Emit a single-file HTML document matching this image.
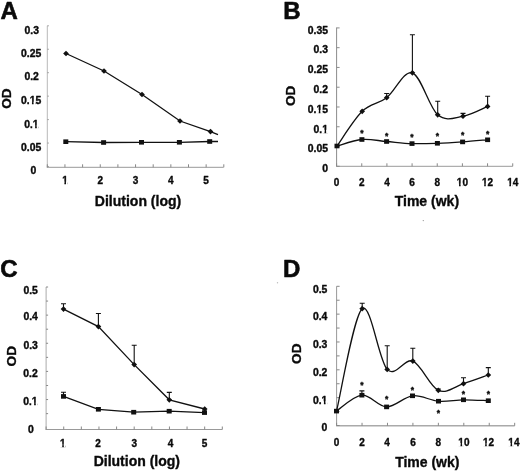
<!DOCTYPE html>
<html><head><meta charset="utf-8"><title>Figure</title>
<style>
html,body{margin:0;padding:0;background:#fff;}
body{width:520px;height:471px;overflow:hidden;}
svg{display:block;filter:grayscale(1);font-family:"Liberation Sans",sans-serif;font-weight:bold;fill:#0a0a0a;}
text{stroke:#0a0a0a;stroke-width:0.35px;stroke-linejoin:round;}
text.big{stroke-width:0.6px;}
</style></head>
<body>
<svg width="520" height="471" viewBox="0 0 520 471">
<rect width="520" height="471" fill="#fff"/>
<path d="M47.3,25.8 V167.3" stroke="#b8b8b8" stroke-width="1" fill="none"/>
<path d="M46.8,167.3 H223.6" stroke="#999" stroke-width="1" fill="none"/>
<path d=" M47.3,166.5 h1.5 M47.3,143.05 h1.5 M47.3,119.6 h1.5 M47.3,96.15 h1.5 M47.3,72.7 h1.5 M47.3,49.25 h1.5 M47.3,25.8 h1.5" stroke="#999" stroke-width="1" fill="none"/>
<path d=" M47.3,167.3 v-3 M64.95,167.3 v-3 M82.6,167.3 v-3 M100.25,167.3 v-3 M117.9,167.3 v-3 M135.55,167.3 v-3 M153.2,167.3 v-3 M170.85,167.3 v-3 M188.5,167.3 v-3 M206.15,167.3 v-3 M223.8,167.3 v-3" stroke="#888" stroke-width="1" fill="none"/>
<text transform="translate(33.3,174.3) scale(1.04,1)" x="0" y="0" font-size="10" text-anchor="middle">0</text>
<text transform="translate(31.1,151.2) scale(1.04,1)" x="0" y="0" font-size="10" text-anchor="middle">0.05</text>
<text transform="translate(31.4,127.9) scale(1.04,1)" x="0" y="0" font-size="10" text-anchor="middle">0.1</text>
<text transform="translate(31.1,104.45) scale(1.04,1)" x="0" y="0" font-size="10" text-anchor="middle">0.15</text>
<text transform="translate(31.6,80.3) scale(1.04,1)" x="0" y="0" font-size="10" text-anchor="middle">0.2</text>
<text transform="translate(31.1,57.15) scale(1.04,1)" x="0" y="0" font-size="10" text-anchor="middle">0.25</text>
<text transform="translate(31.7,33.9) scale(1.04,1)" x="0" y="0" font-size="10" text-anchor="middle">0.3</text>
<text x="64.95" y="184.3" font-size="10" text-anchor="middle">1</text>
<text x="100.25" y="184.3" font-size="10" text-anchor="middle">2</text>
<text x="135.55" y="184.3" font-size="10" text-anchor="middle">3</text>
<text x="170.85" y="184.3" font-size="10" text-anchor="middle">4</text>
<text x="206.15" y="184.3" font-size="10" text-anchor="middle">5</text>
<text x="138" y="206.2" font-size="14" text-anchor="middle">Dilution (log)</text>
<text transform="translate(11.2,98.6) rotate(-90)" font-size="13.6" text-anchor="middle">OD</text>
<text x="0.4" y="18.7" font-size="24" text-anchor="start" class="big">A</text>
<path d="M66,53.5 L104,71 L142,94.5 L180,121 L210.5,131.6 L218,134.6" stroke="#111" stroke-width="1.3" fill="none"/>
<path d="M65.8,141.7 L103.6,142.5 L141.5,142.3 L179.4,142.3 L209.7,141.5 L218,141.5" stroke="#111" stroke-width="1.3" fill="none"/>
<path d="M66,50.65 L68.85,53.5 L66,56.35 L63.15,53.5 Z" fill="#111"/>
<path d="M104,68.15 L106.85,71 L104,73.85 L101.15,71 Z" fill="#111"/>
<path d="M142,91.65 L144.85,94.5 L142,97.35 L139.15,94.5 Z" fill="#111"/>
<path d="M180,118.15 L182.85,121 L180,123.85 L177.15,121 Z" fill="#111"/>
<path d="M210.5,128.75 L213.35,131.6 L210.5,134.45 L207.65,131.6 Z" fill="#111"/>
<rect x="63.3" y="139.4" width="5" height="4.6" fill="#111"/>
<rect x="101.1" y="140.2" width="5" height="4.6" fill="#111"/>
<rect x="139" y="140" width="5" height="4.6" fill="#111"/>
<rect x="176.9" y="140" width="5" height="4.6" fill="#111"/>
<rect x="207.2" y="139.2" width="5" height="4.6" fill="#111"/>
<path d="M336.6,27.5 V166.3" stroke="#8c8c8c" stroke-width="1" fill="none"/>
<path d="M336.1,166.3 H512.72" stroke="#9a9a9a" stroke-width="1" fill="none"/>
<path d=" M336.6,166.3 h3 M336.6,146.53 h3 M336.6,126.76 h3 M336.6,106.99 h3 M336.6,87.22 h3 M336.6,67.45 h3 M336.6,47.68 h3 M336.6,27.91 h3" stroke="#8c8c8c" stroke-width="1" fill="none"/>
<path d=" M336.6,166.3 v-3 M361.76,166.3 v-3 M386.92,166.3 v-3 M412.08,166.3 v-3 M437.24,166.3 v-3 M462.4,166.3 v-3 M487.56,166.3 v-3 M512.72,166.3 v-3" stroke="#888" stroke-width="1" fill="none"/>
<text transform="translate(328,172.1) scale(1.04,1)" x="0" y="0" font-size="10" text-anchor="end">0</text>
<text transform="translate(328,152.33) scale(1.04,1)" x="0" y="0" font-size="10" text-anchor="end">0.05</text>
<text transform="translate(328,132.56) scale(1.04,1)" x="0" y="0" font-size="10" text-anchor="end">0.1</text>
<text transform="translate(328,112.79) scale(1.04,1)" x="0" y="0" font-size="10" text-anchor="end">0.15</text>
<text transform="translate(328,93.02) scale(1.04,1)" x="0" y="0" font-size="10" text-anchor="end">0.2</text>
<text transform="translate(328,73.25) scale(1.04,1)" x="0" y="0" font-size="10" text-anchor="end">0.25</text>
<text transform="translate(328,53.48) scale(1.04,1)" x="0" y="0" font-size="10" text-anchor="end">0.3</text>
<text transform="translate(328,33.71) scale(1.04,1)" x="0" y="0" font-size="10" text-anchor="end">0.35</text>
<text x="336.6" y="186.3" font-size="10" text-anchor="middle">0</text>
<text x="361.76" y="186.3" font-size="10" text-anchor="middle">2</text>
<text x="386.92" y="186.3" font-size="10" text-anchor="middle">4</text>
<text x="412.08" y="186.3" font-size="10" text-anchor="middle">6</text>
<text x="437.24" y="186.3" font-size="10" text-anchor="middle">8</text>
<text x="462.4" y="186.3" font-size="10" text-anchor="middle">10</text>
<text x="487.56" y="186.3" font-size="10" text-anchor="middle">12</text>
<text x="512.72" y="186.3" font-size="10" text-anchor="middle">14</text>
<text x="426.9" y="205.8" font-size="14" text-anchor="middle">Time (wk)</text>
<text transform="translate(295.1,95.8) rotate(-90)" font-size="13.6" text-anchor="middle">OD</text>
<text x="283.3" y="18.7" font-size="24" text-anchor="start" class="big">B</text>
<path d="M386.7,97.7 V93.5 M384.2,93.5 H389.2" stroke="#111" stroke-width="1.1" fill="none"/>
<path d="M412.4,72.8 V34.7 M409.9,34.7 H414.9" stroke="#111" stroke-width="1.1" fill="none"/>
<path d="M437.7,114.8 V101.2 M435.2,101.2 H440.2" stroke="#111" stroke-width="1.1" fill="none"/>
<path d="M463,116.2 V113.4 M460.5,113.4 H465.5" stroke="#111" stroke-width="1.1" fill="none"/>
<path d="M487.6,106.4 V96.3 M485.1,96.3 H490.1" stroke="#111" stroke-width="1.1" fill="none"/>
<path d="M337,146 C341.2,140.22 353.92,119.35 362.2,111.3 C370.48,103.25 378.33,104.12 386.7,97.7 C395.07,91.28 403.9,69.95 412.4,72.8 C420.9,75.65 429.27,107.57 437.7,114.8 C446.13,122.03 454.68,117.6 463,116.2 C471.32,114.8 483.5,108.03 487.6,106.4" stroke="#111" stroke-width="1.3" fill="none"/>
<path d="M337,146 C341.15,144.92 353.63,140.25 361.9,139.5 C370.17,138.75 378.25,140.82 386.6,141.5 C394.95,142.18 403.53,143.3 412,143.6 C420.47,143.9 428.97,143.58 437.4,143.3 C445.83,143.02 454.23,142.48 462.6,141.9 C470.97,141.32 483.43,140.15 487.6,139.8" stroke="#111" stroke-width="1.3" fill="none"/>
<path d="M362.2,108.45 L365.05,111.3 L362.2,114.15 L359.35,111.3 Z" fill="#111"/>
<path d="M386.7,94.85 L389.55,97.7 L386.7,100.55 L383.85,97.7 Z" fill="#111"/>
<path d="M412.4,69.95 L415.25,72.8 L412.4,75.65 L409.55,72.8 Z" fill="#111"/>
<path d="M437.7,111.95 L440.55,114.8 L437.7,117.65 L434.85,114.8 Z" fill="#111"/>
<path d="M463,113.35 L465.85,116.2 L463,119.05 L460.15,116.2 Z" fill="#111"/>
<path d="M487.6,103.55 L490.45,106.4 L487.6,109.25 L484.75,106.4 Z" fill="#111"/>
<rect x="334.5" y="143.7" width="5" height="4.6" fill="#111"/>
<rect x="359.4" y="137.2" width="5" height="4.6" fill="#111"/>
<rect x="384.1" y="139.2" width="5" height="4.6" fill="#111"/>
<rect x="409.5" y="141.3" width="5" height="4.6" fill="#111"/>
<rect x="434.9" y="141" width="5" height="4.6" fill="#111"/>
<rect x="460.1" y="139.6" width="5" height="4.6" fill="#111"/>
<rect x="485.1" y="137.5" width="5" height="4.6" fill="#111"/>
<text x="361.9" y="136.4" font-size="8.5" text-anchor="middle">*</text>
<text x="386.6" y="138.5" font-size="8.5" text-anchor="middle">*</text>
<text x="412" y="140.19" font-size="8.5" text-anchor="middle">*</text>
<text x="437.4" y="139.3" font-size="8.5" text-anchor="middle">*</text>
<text x="462.6" y="138.19" font-size="8.5" text-anchor="middle">*</text>
<text x="487.6" y="136.8" font-size="8.5" text-anchor="middle">*</text>
<circle cx="423.3" cy="220.6" r="0.7" fill="#999"/>
<circle cx="277.5" cy="282.7" r="0.7" fill="#bbb"/>
<path d="M46.1,287 V429.5" stroke="#aaa" stroke-width="1" fill="none"/>
<path d="M45.6,429.5 H222.3" stroke="#999" stroke-width="1" fill="none"/>
<path d=" M46.1,287 h2 M46.1,301.07 h2 M46.1,315.14 h2 M46.1,329.21 h2 M46.1,343.28 h2 M46.1,357.35 h2 M46.1,371.42 h2 M46.1,385.49 h2 M46.1,399.56 h2 M46.1,413.63 h2" stroke="#888" stroke-width="1" fill="none"/>
<path d=" M46.1,429.5 v-3 M63.72,429.5 v-3 M81.34,429.5 v-3 M98.96,429.5 v-3 M116.58,429.5 v-3 M134.2,429.5 v-3 M151.82,429.5 v-3 M169.44,429.5 v-3 M187.06,429.5 v-3 M204.68,429.5 v-3 M222.3,429.5 v-3" stroke="#888" stroke-width="1" fill="none"/>
<text transform="translate(31,433.1) scale(1.04,1)" x="0" y="0" font-size="10" text-anchor="middle">0</text>
<text transform="translate(30.4,405.3) scale(1.04,1)" x="0" y="0" font-size="10" text-anchor="middle">0.1</text>
<text transform="translate(30.5,377.2) scale(1.04,1)" x="0" y="0" font-size="10" text-anchor="middle">0.2</text>
<text transform="translate(30.6,349.1) scale(1.04,1)" x="0" y="0" font-size="10" text-anchor="middle">0.3</text>
<text transform="translate(30.6,320.3) scale(1.04,1)" x="0" y="0" font-size="10" text-anchor="middle">0.4</text>
<text transform="translate(30.6,293.5) scale(1.04,1)" x="0" y="0" font-size="10" text-anchor="middle">0.5</text>
<text x="62.8" y="446.5" font-size="10" text-anchor="middle">1</text>
<text x="98" y="446.5" font-size="10" text-anchor="middle">2</text>
<text x="134.2" y="446.5" font-size="10" text-anchor="middle">3</text>
<text x="170.5" y="446.5" font-size="10" text-anchor="middle">4</text>
<text x="204.6" y="446.5" font-size="10" text-anchor="middle">5</text>
<text x="136.8" y="465.8" font-size="14" text-anchor="middle">Dilution (log)</text>
<text transform="translate(15.5,356.2) rotate(-90)" font-size="13.6" text-anchor="middle">OD</text>
<text x="0.3" y="277.3" font-size="24" text-anchor="start" class="big">C</text>
<path d="M63.5,309.1 V303.7 M61,303.7 H66" stroke="#111" stroke-width="1.1" fill="none"/>
<path d="M98.4,326.6 V313.5 M95.9,313.5 H100.9" stroke="#111" stroke-width="1.1" fill="none"/>
<path d="M134.2,364.6 V345.2 M131.7,345.2 H136.7" stroke="#111" stroke-width="1.1" fill="none"/>
<path d="M169.3,399.8 V392.4 M166.8,392.4 H171.8" stroke="#111" stroke-width="1.1" fill="none"/>
<path d="M63.5,396.4 V392.2 M61,392.2 H66" stroke="#111" stroke-width="1.1" fill="none"/>
<path d="M63.5,309.1 L98.4,326.6 L134.2,364.6 L169.3,399.8 L204.7,409" stroke="#111" stroke-width="1.3" fill="none"/>
<path d="M63.5,396.4 L98.4,409.3 L133.7,412.2 L169.2,411.2 L204.5,412.6" stroke="#111" stroke-width="1.3" fill="none"/>
<path d="M63.5,306.25 L66.35,309.1 L63.5,311.95 L60.65,309.1 Z" fill="#111"/>
<path d="M98.4,323.75 L101.25,326.6 L98.4,329.45 L95.55,326.6 Z" fill="#111"/>
<path d="M134.2,361.75 L137.05,364.6 L134.2,367.45 L131.35,364.6 Z" fill="#111"/>
<path d="M169.3,396.95 L172.15,399.8 L169.3,402.65 L166.45,399.8 Z" fill="#111"/>
<path d="M204.7,406.15 L207.55,409 L204.7,411.85 L201.85,409 Z" fill="#111"/>
<rect x="61" y="394.1" width="5" height="4.6" fill="#111"/>
<rect x="95.9" y="407" width="5" height="4.6" fill="#111"/>
<rect x="131.2" y="409.9" width="5" height="4.6" fill="#111"/>
<rect x="166.7" y="408.9" width="5" height="4.6" fill="#111"/>
<rect x="202" y="410.3" width="5" height="4.6" fill="#111"/>
<path d="M336.6,286.3 V425.8" stroke="#999" stroke-width="1" fill="none"/>
<path d="M336.1,425.8 H514.68" stroke="#aaa" stroke-width="1.5" fill="none"/>
<path d=" M336.6,425.5 h3 M336.6,411.58 h3 M336.6,397.66 h3 M336.6,383.74 h3 M336.6,369.82 h3 M336.6,355.9 h3 M336.6,341.98 h3 M336.6,328.06 h3 M336.6,314.14 h3 M336.6,300.22 h3 M336.6,286.3 h3" stroke="#888" stroke-width="1" fill="none"/>
<path d=" M336.6,425.8 v-3 M362.04,425.8 v-3 M387.48,425.8 v-3 M412.92,425.8 v-3 M438.36,425.8 v-3 M463.8,425.8 v-3 M489.24,425.8 v-3 M514.68,425.8 v-3" stroke="#888" stroke-width="1" fill="none"/>
<text transform="translate(327.4,431.1) scale(1.04,1)" x="0" y="0" font-size="10" text-anchor="end">0</text>
<text transform="translate(327.4,404) scale(1.04,1)" x="0" y="0" font-size="10" text-anchor="end">0.1</text>
<text transform="translate(327.4,376.4) scale(1.04,1)" x="0" y="0" font-size="10" text-anchor="end">0.2</text>
<text transform="translate(327.4,347.7) scale(1.04,1)" x="0" y="0" font-size="10" text-anchor="end">0.3</text>
<text transform="translate(327.4,320.2) scale(1.04,1)" x="0" y="0" font-size="10" text-anchor="end">0.4</text>
<text transform="translate(327.4,292.5) scale(1.04,1)" x="0" y="0" font-size="10" text-anchor="end">0.5</text>
<text x="336.5" y="445.7" font-size="10" text-anchor="middle">0</text>
<text x="362" y="445.7" font-size="10" text-anchor="middle">2</text>
<text x="387.1" y="445.7" font-size="10" text-anchor="middle">4</text>
<text x="413" y="445.7" font-size="10" text-anchor="middle">6</text>
<text x="438.3" y="445.7" font-size="10" text-anchor="middle">8</text>
<text x="463.9" y="445.7" font-size="10" text-anchor="middle">10</text>
<text x="488.5" y="445.7" font-size="10" text-anchor="middle">12</text>
<text x="513.9" y="445.7" font-size="10" text-anchor="middle">14</text>
<text x="427.3" y="467.4" font-size="14" text-anchor="middle">Time (wk)</text>
<text transform="translate(300.7,353.7) rotate(-90)" font-size="13.6" text-anchor="middle">OD</text>
<text x="283" y="277.2" font-size="24" text-anchor="start" class="big">D</text>
<path d="M362.2,308.7 V303.3 M359.7,303.3 H364.7" stroke="#111" stroke-width="1.1" fill="none"/>
<path d="M387.2,369.4 V345.8 M384.7,345.8 H389.7" stroke="#111" stroke-width="1.1" fill="none"/>
<path d="M412.8,361.1 V348.2 M410.3,348.2 H415.3" stroke="#111" stroke-width="1.1" fill="none"/>
<path d="M438.3,390.3 V389 M435.8,389 H440.8" stroke="#111" stroke-width="1.1" fill="none"/>
<path d="M463.5,383.7 V377.8 M461,377.8 H466" stroke="#111" stroke-width="1.1" fill="none"/>
<path d="M488.3,375 V367.6 M485.8,367.6 H490.8" stroke="#111" stroke-width="1.1" fill="none"/>
<path d="M361.9,395.2 V390.9 M359.4,390.9 H364.4" stroke="#111" stroke-width="1.1" fill="none"/>
<path d="M336.5,411.1 C340.78,394.03 353.75,315.65 362.2,308.7 C370.65,301.75 378.77,360.67 387.2,369.4 C395.63,378.13 404.28,357.62 412.8,361.1 C421.32,364.58 429.85,386.53 438.3,390.3 C446.75,394.07 455.17,386.25 463.5,383.7 C471.83,381.15 484.17,376.45 488.3,375" stroke="#111" stroke-width="1.3" fill="none"/>
<path d="M336.5,411.1 C340.73,408.45 353.55,395.9 361.9,395.2 C370.25,394.5 378.17,406.8 386.6,406.9 C395.03,407 403.85,396.75 412.5,395.8 C421.15,394.85 430,400.53 438.5,401.2 C447,401.87 455.2,399.88 463.5,399.8 C471.8,399.72 484.17,400.55 488.3,400.7" stroke="#111" stroke-width="1.3" fill="none"/>
<path d="M362.2,305.85 L365.05,308.7 L362.2,311.55 L359.35,308.7 Z" fill="#111"/>
<path d="M387.2,366.55 L390.05,369.4 L387.2,372.25 L384.35,369.4 Z" fill="#111"/>
<path d="M412.8,358.25 L415.65,361.1 L412.8,363.95 L409.95,361.1 Z" fill="#111"/>
<path d="M438.3,387.45 L441.15,390.3 L438.3,393.15 L435.45,390.3 Z" fill="#111"/>
<path d="M463.5,380.85 L466.35,383.7 L463.5,386.55 L460.65,383.7 Z" fill="#111"/>
<path d="M488.3,372.15 L491.15,375 L488.3,377.85 L485.45,375 Z" fill="#111"/>
<rect x="334" y="408.8" width="5" height="4.6" fill="#111"/>
<rect x="359.4" y="392.9" width="5" height="4.6" fill="#111"/>
<rect x="384.1" y="404.6" width="5" height="4.6" fill="#111"/>
<rect x="410" y="393.5" width="5" height="4.6" fill="#111"/>
<rect x="436" y="398.9" width="5" height="4.6" fill="#111"/>
<rect x="461" y="397.5" width="5" height="4.6" fill="#111"/>
<rect x="485.8" y="398.4" width="5" height="4.6" fill="#111"/>
<text x="361.9" y="388.19" font-size="8.5" text-anchor="middle">*</text>
<text x="386.6" y="401.89" font-size="8.5" text-anchor="middle">*</text>
<text x="412.5" y="392.5" font-size="8.5" text-anchor="middle">*</text>
<text x="438.5" y="415.69" font-size="8.5" text-anchor="middle">*</text>
<text x="463.5" y="396.8" font-size="8.5" text-anchor="middle">*</text>
<text x="488.3" y="396.8" font-size="8.5" text-anchor="middle">*</text>
<rect x="32.52" y="125.17" width="2.61" height="3.73" fill="#fff"/>
<rect x="36.78" y="125.17" width="1.83" height="3.73" fill="#fff"/>
<rect x="29.34" y="101.72" width="2.61" height="3.73" fill="#fff"/>
<rect x="33.6" y="101.72" width="1.83" height="3.73" fill="#fff"/>
<rect x="61.88" y="181.57" width="2.5" height="3.73" fill="#fff"/>
<rect x="65.97" y="181.57" width="1.76" height="3.73" fill="#fff"/>
<rect x="321.9" y="129.83" width="2.61" height="3.73" fill="#fff"/>
<rect x="326.16" y="129.83" width="1.83" height="3.73" fill="#fff"/>
<rect x="316.13" y="110.06" width="2.61" height="3.73" fill="#fff"/>
<rect x="320.39" y="110.06" width="1.83" height="3.73" fill="#fff"/>
<rect x="456.54" y="183.57" width="2.5" height="3.73" fill="#fff"/>
<rect x="460.64" y="183.57" width="1.76" height="3.73" fill="#fff"/>
<rect x="481.7" y="183.57" width="2.5" height="3.73" fill="#fff"/>
<rect x="485.8" y="183.57" width="1.76" height="3.73" fill="#fff"/>
<rect x="506.86" y="183.57" width="2.5" height="3.73" fill="#fff"/>
<rect x="510.96" y="183.57" width="1.76" height="3.73" fill="#fff"/>
<rect x="31.52" y="402.57" width="2.61" height="3.73" fill="#fff"/>
<rect x="35.78" y="402.57" width="1.83" height="3.73" fill="#fff"/>
<rect x="59.73" y="443.77" width="2.5" height="3.73" fill="#fff"/>
<rect x="63.82" y="443.77" width="1.76" height="3.73" fill="#fff"/>
<rect x="321.3" y="401.27" width="2.61" height="3.73" fill="#fff"/>
<rect x="325.56" y="401.27" width="1.83" height="3.73" fill="#fff"/>
<rect x="458.04" y="442.97" width="2.5" height="3.73" fill="#fff"/>
<rect x="462.14" y="442.97" width="1.76" height="3.73" fill="#fff"/>
<rect x="482.64" y="442.97" width="2.5" height="3.73" fill="#fff"/>
<rect x="486.74" y="442.97" width="1.76" height="3.73" fill="#fff"/>
<rect x="508.04" y="442.97" width="2.5" height="3.73" fill="#fff"/>
<rect x="512.14" y="442.97" width="1.76" height="3.73" fill="#fff"/>
</svg>
</body></html>
